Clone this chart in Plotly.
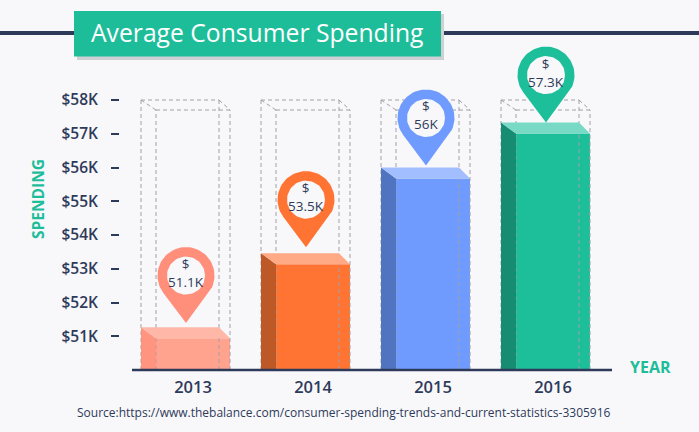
import numpy as np
import plotly.graph_objects as go

years = ['2013', '2014', '2015', '2016']
labels = ['51.1K', '53.5K', '56K', '57.3K']
bar_tops = [51.27, 53.46, 56.0, 57.33]
pin_tips = [51.39, 53.64, 56.06, 57.33]
y_ticks = [51, 52, 53, 54, 55, 56, 57, 58]
y_labels = ['$51K', '$52K', '$53K', '$54K', '$55K', '$56K', '$57K', '$58K']

front_colors = ['rgba(255,150,128,0.88)', '#FF7433', '#6F9BFF', '#1DBF9B']
top_colors = ['#FFB8A8', '#FFA985', '#A3BEFF', '#78D9C4']
side_colors = ['rgba(255,138,115,0.9)', '#BC5926', '#5174C0', '#168C73']
pin_colors = ['#FF8F7A', '#FF7433', '#6F9BFF', '#1DBF9B']

DARK = '#2E3A59'
GREEN = '#1DBD9A'
BG = '#F8F8FB'
FONT = 'Open Sans'

# pixel scale of the axes
W, H = 699, 432
LEFT, BOTTOM = 120, 370
PX_X = 120
PX_Y = 33.75
X0 = 193


def dx(px):
    return px / PX_X


def dy(px):
    return px / PX_Y


def paper_x(px):
    return (px - LEFT) / (W - LEFT)


def paper_y(px):
    return (BOTTOM - px) / BOTTOM


fig = go.Figure()


def poly(xs, ys, color):
    fig.add_trace(go.Scatter(x=xs, y=ys, mode='lines', fill='toself', fillcolor=color,
                             line=dict(width=0), hoverinfo='skip', showlegend=False))


# dashed boxes behind the bars
for i, top in enumerate(bar_tops):
    fl, fr = i - dx(37), i + dx(37)
    bl, br = i - dx(52), i + dx(26)
    ft, bt = 58 - dy(10), 58
    xs = [bl, bl, None, br, br, None, fl, fl, None, fr, fr, None,
          bl, br, None, fl, fr, None, bl, fl, None, br, fr]
    ys = [50, bt, None, 50, bt, None, 50, ft, None, 50, ft, None,
          bt, bt, None, ft, ft, None, bt, ft, None, bt, ft]
    fig.add_trace(go.Scatter(x=xs, y=ys, mode='lines', hoverinfo='skip', showlegend=False,
                             line=dict(color='#A0A0A6', width=1, dash='4px,3px')))

# front faces
fig.add_trace(go.Bar(x=list(range(4)), y=[t - dy(11) - 50 for t in bar_tops], base=50,
                     width=74 / PX_X, marker=dict(color=front_colors, line=dict(width=0)),
                     hoverinfo='skip', showlegend=False))

# side and top faces
for i, top in enumerate(bar_tops):
    fl, fr = i - dx(37), i + dx(37)
    bl, br = i - dx(52), i + dx(26)
    ft = top - dy(11)
    poly([bl, fl, fl, bl, bl], [top, ft, 50, 50, top], side_colors[i])
    poly([bl, br, fr, fl, bl], [top, top, ft, ft, top], top_colors[i])

# pins
R_OUT, R_IN, TIP = 28.5, 19, 47.5
ang = np.arccos(R_OUT / TIP)
theta = np.linspace(-np.pi / 2 + ang, 3 * np.pi / 2 - ang, 60)
circle = np.linspace(0, 2 * np.pi, 60)
annotations = []
for i, tip in enumerate(pin_tips):
    cx = i - dx(7)
    cy = tip + dy(TIP)
    xs = [cx] + list(cx + dx(R_OUT) * np.cos(theta)) + [cx]
    ys = [tip] + list(cy + dy(R_OUT) * np.sin(theta)) + [tip]
    poly(xs, ys, pin_colors[i])
    poly(list(cx + dx(R_IN) * np.cos(circle)), list(cy + dy(R_IN) * np.sin(circle)), BG)
    annotations.append(dict(x=cx, y=cy, xref='x', yref='y', text='$<br>' + labels[i], yshift=2.5,
                            showarrow=False, align='center', xanchor='center', yanchor='middle',
                            font=dict(family=FONT, size=13.5, color=DARK)))


def label(px, py, text, font, **kw):
    return dict(x=paper_x(px), y=paper_y(py), xref='paper', yref='paper', text=text,
                showarrow=False, xanchor='center', yanchor='middle', font=font, **kw)


annotations += [
    label(257, 32, 'Average Consumer Spending', dict(family=FONT, size=24.7, color='white')),
    label(38, 199, 'SPENDING', dict(family=FONT, size=15.5, color=GREEN, weight=700), textangle=-90),
    label(650, 367, 'YEAR', dict(family=FONT, size=16, color=GREEN, weight=700)),
    label(344, 412, 'Source:https://www.thebalance.com/consumer-spending-trends-and-current-statistics-3305916',
          dict(family=FONT, size=12, color=DARK)),
]

shapes = [
    dict(type='line', xref='paper', yref='paper', x0=paper_x(0), x1=paper_x(699),
         y0=paper_y(33), y1=paper_y(33), line=dict(color=DARK, width=4), layer='below'),
    dict(type='rect', xref='paper', yref='paper', x0=paper_x(77), x1=paper_x(444),
         y0=paper_y(14), y1=paper_y(60), fillcolor='#CFD0D4', line=dict(width=0)),
    dict(type='rect', xref='paper', yref='paper', x0=paper_x(74), x1=paper_x(441),
         y0=paper_y(11), y1=paper_y(56.5), fillcolor=GREEN, line=dict(width=0)),
    dict(type='line', xref='paper', yref='paper', x0=paper_x(132), x1=paper_x(612),
         y0=0, y1=0, line=dict(color=DARK, width=2.5)),
]

fig.update_layout(
    width=W,
    height=H,
    margin=dict(l=LEFT, r=0, t=0, b=H - BOTTOM),
    paper_bgcolor=BG,
    plot_bgcolor=BG,
    showlegend=False,
    shapes=shapes,
    annotations=annotations,
    xaxis=dict(
        range=[(LEFT - X0) / PX_X, (W - X0) / PX_X],
        tickmode='array',
        tickvals=list(range(4)),
        ticktext=years,
        showgrid=False,
        zeroline=False,
        ticks='',
        ticklabelstandoff=5,
        tickfont=dict(family=FONT, size=16.5, color=DARK, weight=600),
    ),
    yaxis=dict(
        range=[50, 50 + BOTTOM / PX_Y],
        tickmode='array',
        tickvals=y_ticks,
        ticktext=y_labels,
        showgrid=False,
        zeroline=False,
        ticks='outside',
        ticklen=8,
        tickwidth=1.5,
        tickcolor=DARK,
        ticklabelstandoff=10,
        tickfont=dict(family=FONT, size=15.5, color=DARK, weight=600),
    ),
)

fig.write_html("out.html", config=dict(displayModeBar=False),
               post_script="document.body.style.margin='0';document.body.style.background='#F8F8FB';")
